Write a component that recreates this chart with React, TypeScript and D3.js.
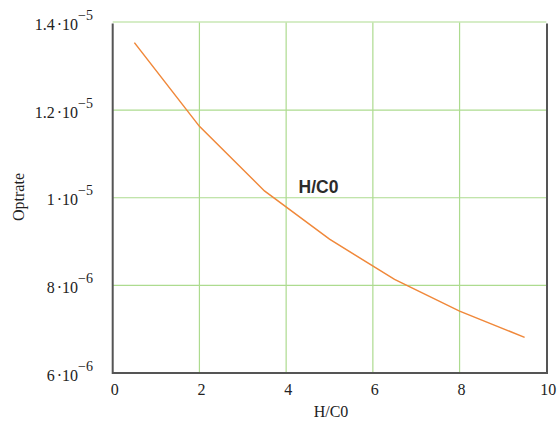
import React from "react";
import * as d3 from "d3";

const xValues = [0.5, 2, 3.5, 5, 6.5, 8, 9.5];
const yValues = [1.354e-5, 1.163e-5, 1.0155e-5, 9.054e-6, 8.136e-6, 7.413e-6, 6.814e-6];
const xTicks = [0, 2, 4, 6, 8, 10];
const yTicks = [6e-6, 8e-6, 1e-5, 1.2e-5, 1.4e-5];
const yTickMantissa = ["6", "8", "1", "1.2", "1.4"];
const yTickExp = ["−6", "−6", "−5", "−5", "−5"];
const seriesLabel = "H/C0";
const xTitle = "H/C0";
const yTitle = "Optrate";

export default function App() {
  const W = 558, H = 422;
  const left = 112.7, right = 546.3, top = 22.5, bottom = 373;
  const x = d3.scaleLinear().domain([0, 10]).range([left, right]);
  const y = d3.scaleLinear().domain([6e-6, 1.4e-5]).range([bottom, top]);
  const line = d3.line<number>().x((_, i) => x(xValues[i])).y((d) => y(d));
  const serif = "'Liberation Serif', 'Times New Roman', serif";
  return (
    <svg width={W} height={H} style={{ position: "absolute", left: 0, top: 0, background: "#fff" }}>
      <rect x={0} y={0} width={W} height={H} fill="#fff" />
      {xTicks.slice(1, -1).map((t) => (
        <line key={"gx" + t} x1={x(t)} x2={x(t)} y1={top} y2={bottom} stroke="#addb8f" strokeWidth={1.2} />
      ))}
      {yTicks.map((t) => (
        <line key={"gy" + t} x1={left} x2={right} y1={y(t) - (t === 1.4e-5 ? 0.5 : 0)} y2={y(t) - (t === 1.4e-5 ? 0.5 : 0)} stroke="#addb8f" strokeWidth={1.2} />
      ))}
      <path d={`M${left},${top + 1}V${bottom}H${right + 0.7}V${top + 1}`} fill="none" stroke="#555" strokeWidth={2} />
      <path d={line(yValues) || ""} fill="none" stroke="#f0883a" strokeWidth={1.5} />
      <text x={298.5} y={192.7} fontFamily="'Liberation Sans', Arial, sans-serif" fontWeight="bold" fontSize={17.5} fill="#2b2b2b">
        {seriesLabel}
      </text>
      {xTicks.map((t) => (
        <text key={"tx" + t} x={x(t) + 2} y={395} textAnchor="middle" fontFamily={serif} fontSize={16} fill="#222">
          {t}
        </text>
      ))}
      {yTicks.map((t, i) => (
        <text key={"ty" + t} x={93} y={y(t) + 7.5} textAnchor="end" fontFamily={serif} fontSize={16} fill="#222">
          {yTickMantissa[i]}
          <tspan dx={2}>·10</tspan>
          <tspan dy={-10} fontSize={14}>{yTickExp[i]}</tspan>
        </text>
      ))}
      <text x={331} y={417} textAnchor="middle" fontFamily={serif} fontSize={16} fill="#222">
        {xTitle}
      </text>
      <text transform={`translate(24,197) rotate(-90)`} textAnchor="middle" fontFamily={serif} fontSize={16} fill="#222">
        {yTitle}
      </text>
    </svg>
  );
}
